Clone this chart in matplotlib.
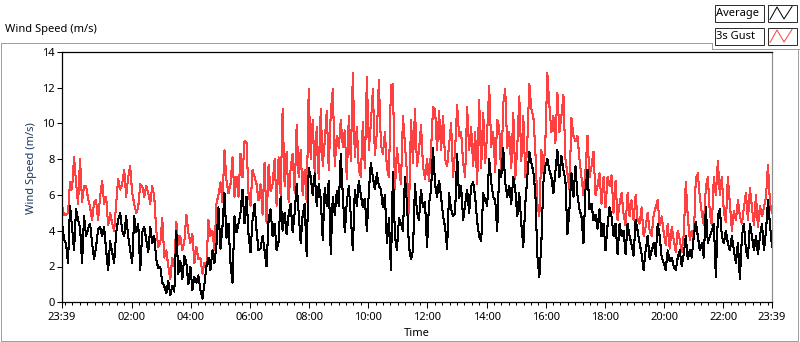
import matplotlib
matplotlib.use("Agg")
import matplotlib.pyplot as plt
import numpy as np
from matplotlib.patches import Rectangle
from matplotlib.lines import Line2D

plt.rcParams['font.family'] = ['Noto Sans', 'DejaVu Sans']

# ---------------- data (left to right, 23:39 -> 23:39) -------------
avg_speed = [
    # 23:39 - 02:55
    4.5, 3.5, 3.3, 2.2, 5.4, 4.2, 2.9, 5.2, 4.6, 4.2, 2.2, 4.8, 3.7, 4.1, 4.4, 3.3, 2.4, 3.1, 4.1, 4.2,
    3.7, 4.2, 2.9, 1.8, 3.4, 2.8, 2.2, 3.9, 4.6, 5.0, 4.0, 3.7, 4.8, 3.7, 2.9, 2.2, 4.8, 3.9, 4.4, 1.8,
    3.9, 4.2, 3.5, 2.8, 4.2, 3.3, 3.7, 2.4, 1.9,
    # 02:55 - 06:15
    2.0, 1.1, 0.9, 0.5, 1.2, 0.4, 0.9, 0.6, 4.0, 1.6, 2.3, 1.3, 2.6, 2.2, 1.0, 2.0, 0.7, 1.4, 1.1, 1.5,
    0.7, 0.2, 1.0, 2.0, 2.5, 1.8, 2.9, 2.2, 3.2, 5.3, 3.0, 4.2, 6.1, 3.6, 4.4, 2.2, 1.1, 4.8, 3.9, 4.4,
    5.0, 6.3, 4.4, 5.9, 3.8, 2.8, 4.6, 5.5, 4.0, 2.9,
    # 06:15 - 09:40
    3.0, 3.7, 2.9, 2.0, 4.6, 5.2, 3.7, 4.4, 2.9, 3.4, 5.9, 4.0, 5.0, 3.8, 4.9, 5.5, 3.9, 5.0, 6.6, 5.0,
    3.3, 4.9, 5.5, 2.6, 7.5, 7.0, 6.0, 7.2, 5.4, 6.6, 5.8, 3.5, 6.4, 5.4, 6.8, 2.7, 5.9, 4.9, 6.2, 5.4,
    8.3, 6.0, 3.9, 5.6, 6.5, 4.8, 2.9, 6.3, 5.4, 6.8,
    # 09:40 - 13:05
    6.0, 5.3, 5.8, 4.0, 6.2, 7.8, 7.0, 6.3, 7.2, 6.5, 6.3, 5.3, 6.0, 3.3, 4.7, 1.8, 7.3, 3.7, 2.9, 4.7,
    4.4, 4.0, 7.0, 5.5, 3.1, 2.4, 2.9, 6.6, 5.0, 4.6, 6.3, 5.3, 5.6, 3.1, 5.5, 6.3, 8.6, 6.6, 5.9, 6.8,
    5.9, 4.8, 4.2, 3.0, 6.1, 5.2, 4.8, 5.0, 8.3, 5.8,
    # 13:05 - 16:25
    6.5, 4.6, 5.5, 6.3, 5.0, 6.5, 6.7, 5.9, 4.5, 3.7, 3.4, 6.1, 5.7, 5.4, 8.0, 6.7, 5.9, 5.7, 4.0, 7.4,
    7.0, 8.6, 6.7, 5.9, 6.5, 5.5, 7.0, 6.3, 4.8, 6.1, 4.4, 3.1, 5.5, 7.0, 8.4, 7.8, 7.3, 6.1, 2.6, 1.4,
    3.3, 6.7, 7.6, 8.0, 7.4, 7.0, 6.1, 7.3, 8.5, 7.0,
    # 16:25 - 19:50
    8.2, 7.4, 6.8, 3.8, 5.2, 7.2, 5.9, 7.6, 6.0, 5.2, 4.8, 3.3, 6.3, 7.4, 5.2, 5.5, 4.6, 4.9, 4.1, 5.2,
    3.7, 4.4, 2.9, 4.3, 5.3, 4.8, 3.7, 4.4, 2.7, 4.4, 3.7, 4.0, 2.7, 4.4, 3.7, 3.2, 2.6, 4.6, 4.0, 3.3,
    2.7, 1.8, 2.9, 3.7, 2.4, 2.9, 3.3, 2.6, 4.4, 3.7,
    # 19:50 - 23:39
    2.5, 2.2, 1.8, 2.9, 2.3, 2.5, 2.0, 1.8, 2.5, 2.9, 2.0, 2.7, 3.7, 2.4, 2.9, 2.5, 3.7, 4.5, 3.7, 2.9,
    3.3, 2.5, 5.3, 3.3, 3.7, 4.0, 4.4, 1.4, 4.8, 5.2, 3.7, 3.3, 4.0, 3.3, 2.9, 3.7, 2.9, 2.2, 3.3, 1.3,
    3.7, 4.4, 2.9, 2.5, 4.4, 3.7, 2.9, 3.7, 2.7, 3.7, 4.4, 2.9, 4.0, 5.7, 4.3, 3.1,
]

gust_speed = [
    # 23:39 - 02:55
    5.4, 4.9, 4.9, 5.0, 6.7, 6.3, 8.1, 6.7, 5.5, 8.0, 5.6, 6.5, 6.5, 5.8, 5.3, 4.6, 5.6, 5.7, 4.6, 5.9,
    6.8, 5.5, 5.9, 4.3, 5.0, 4.4, 4.0, 5.5, 6.9, 6.3, 6.6, 7.4, 5.9, 7.0, 7.6, 6.1, 5.5, 5.0, 5.3, 6.6,
    6.5, 5.9, 6.5, 6.1, 5.5, 6.5, 5.9, 4.0, 3.1,
    # 02:55 - 06:15
    3.3, 4.7, 2.5, 2.9, 2.0, 1.3, 2.5, 2.0, 4.5, 3.2, 3.7, 2.9, 3.4, 4.9, 3.9, 3.3, 3.8, 2.2, 3.1, 2.4,
    2.5, 1.6, 2.2, 2.0, 4.6, 3.7, 4.0, 2.9, 5.5, 6.0, 6.7, 5.6, 8.5, 6.8, 6.1, 6.6, 8.1, 5.9, 7.0, 5.9,
    8.3, 7.0, 9.0, 8.9, 6.1, 5.4, 7.4, 7.0, 6.6, 5.7,
    # 06:15 - 09:40
    6.6, 4.9, 7.8, 4.4, 7.7, 6.2, 6.6, 8.0, 5.4, 8.1, 6.0, 10.8, 6.5, 8.4, 5.6, 7.5, 8.3, 6.1, 9.9, 7.0,
    8.5, 6.0, 7.4, 5.6, 11.9, 8.0, 10.2, 7.2, 9.8, 6.9, 10.8, 7.6, 9.0, 10.7, 7.4, 10.6, 11.9, 7.6, 9.3, 8.6,
    10.2, 8.7, 9.6, 6.9, 10.4, 7.9, 12.8, 8.1, 9.8, 7.4,
    # 09:40 - 13:05
    7.0, 10.1, 7.5, 12.6, 8.5, 10.0, 11.9, 8.2, 9.5, 12.4, 8.8, 8.3, 9.5, 7.5, 7.0, 12.1, 12.2, 6.3, 8.6, 7.5,
    6.6, 10.4, 8.8, 7.2, 5.0, 10.2, 7.8, 10.8, 7.6, 8.5, 9.9, 7.6, 6.9, 8.0, 6.8, 8.5, 10.9, 10.8, 8.5, 10.7,
    8.5, 10.4, 8.0, 7.6, 8.8, 10.0, 7.0, 8.5, 11.0, 9.3,
    # 13:05 - 16:25
    9.5, 7.8, 7.0, 10.9, 8.5, 9.8, 7.6, 9.5, 6.6, 11.3, 7.5, 10.6, 7.8, 9.5, 12.1, 8.7, 9.5, 7.3, 10.2, 9.8,
    7.0, 11.1, 11.9, 8.6, 9.5, 7.5, 10.6, 6.9, 8.7, 11.5, 7.9, 10.4, 7.0, 8.9, 12.2, 10.8, 10.4, 8.5, 5.5, 4.8,
    8.5, 7.2, 9.0, 12.8, 11.0, 9.5, 10.4, 8.9, 11.7, 9.5,
    # 16:25 - 19:50
    10.4, 11.6, 8.0, 7.2, 6.3, 10.3, 9.3, 9.0, 9.3, 8.0, 7.0, 6.0, 7.4, 9.3, 7.0, 7.6, 8.4, 6.0, 6.5, 7.2,
    5.5, 7.0, 5.3, 7.0, 6.5, 7.1, 5.0, 6.8, 4.6, 5.5, 6.1, 4.9, 4.3, 6.1, 4.8, 5.7, 4.6, 6.0, 4.6, 4.4,
    5.3, 3.7, 4.2, 5.0, 4.0, 3.7, 4.9, 5.3, 5.7, 4.3,
    # 19:50 - 23:39
    4.8, 3.9, 3.2, 4.4, 3.0, 4.2, 3.5, 2.8, 4.0, 3.5, 2.8, 3.8, 6.7, 4.8, 3.5, 4.0, 3.6, 6.9, 7.2, 5.9,
    5.0, 4.3, 6.4, 7.0, 5.0, 4.3, 7.0, 6.0, 7.9, 6.0, 7.0, 5.0, 4.5, 7.0, 5.5, 4.0, 5.1, 4.6, 5.7, 4.8,
    4.4, 5.3, 6.1, 4.6, 6.4, 5.3, 4.3, 6.0, 4.2, 5.4, 4.8, 5.3, 5.9, 7.7, 5.5, 5.0,
]

span_minutes = 1440           # 23:39 to 23:39 next day
tick_minutes = [0, 141, 261, 381, 501, 621, 741, 861, 981, 1101, 1221, 1341, 1440]
tick_labels = ["23:39", "02:00", "04:00", "06:00", "08:00", "10:00", "12:00",
               "14:00", "16:00", "18:00", "20:00", "22:00", "23:39"]
y_ticks = [0, 2, 4, 6, 8, 10, 12, 14]
series_names = ["Average", "3s Gust"]
series_colors = ["#000000", "#ff4040"]

# ---------------- figure ----------------
W, H = 800, 342
fig = plt.figure(figsize=(W / 100, H / 100), dpi=100)
fig.patch.set_facecolor("white")

# decoration layer in pixel coordinates
deco = fig.add_axes([0, 0, 1, 1], zorder=0)
deco.set_xlim(0, W)
deco.set_ylim(H, 0)
deco.axis("off")
grey = "#a0a0a0"
for xs, ys in [([0.5, 712], [42.5, 42.5]), ([0.5, 0.5], [42.5, 340.5]),
               ([0.5, 797.5], [340.5, 340.5]), ([797.5, 797.5], [48.5, 340.5]),
               ([712, 712], [42.5, 48.5]), ([712, 800], [48.5, 48.5])]:
    deco.add_line(Line2D(xs, ys, color=grey, lw=0.72, antialiased=False))

deco.text(5, 32, "Wind Speed (m/s)", fontsize=8, color="#000000", va="baseline", ha="left")

# legend boxes
for i, (name, col) in enumerate(zip(series_names, series_colors)):
    top = 4.5 + i * 23
    deco.add_patch(Rectangle((714.5, top), 49, 17, facecolor="white", edgecolor="#303030", lw=0.72))
    deco.text(716.5, top + 8.8, name, fontsize=8, va="center", ha="left", color="black")
    deco.add_patch(Rectangle((767.5, top), 29, 17, facecolor="white", edgecolor="#303030", lw=0.72))
    zx = [770, 777, 784, 792]
    zy = [top + 15, top + 2.5, top + 14.5, top + 2]
    deco.add_line(Line2D(zx, zy, color=col, lw=0.72))

# main plot axes
left, right, top_px, bot_px = 62, 772, 51.7, 302.3
ax = fig.add_axes([left / W, 1 - bot_px / H, (right - left) / W, (bot_px - top_px) / H], zorder=1)
ax.set_facecolor("white")

t_avg = np.linspace(0, span_minutes, len(avg_speed))
t_gust = np.linspace(0, span_minutes, len(gust_speed))
ax.plot(t_gust, gust_speed, color=series_colors[1], lw=0.75, antialiased=False, label=series_names[1])
ax.plot(t_avg, avg_speed, color=series_colors[0], lw=0.75, antialiased=False, label=series_names[0])

ax.set_xlim(0, span_minutes)
ax.set_ylim(0, 14)
ax.set_yticks(y_ticks)
ax.set_yticklabels([str(v) for v in y_ticks])
ax.set_xticks(tick_minutes)
ax.set_xticklabels(tick_labels)
ax.set_xticks([6] + list(range(21, span_minutes, 15)), minor=True)
ax.tick_params(axis="y", which="major", length=3.6, width=0.75, pad=1.5, labelsize=8, direction="out")
ax.tick_params(axis="x", which="major", length=4.3, width=0.75, pad=2.5, labelsize=8, direction="out")
ax.tick_params(axis="x", which="minor", length=2.5, width=0.75, direction="out")

for s in ["top", "left", "bottom"]:
    ax.spines[s].set_color("black")
    ax.spines[s].set_linewidth(0.9)
ax.spines["right"].set_color("#909090")
ax.spines["right"].set_linewidth(0.9)

ax.set_ylabel("Wind Speed (m/s)", fontsize=8, color="#1b3560")
ax.yaxis.set_label_coords(-0.043, 0.534)
ax.yaxis.label.set_verticalalignment("center")
ax.set_xlabel("Time", fontsize=8, color="black")
ax.xaxis.set_label_coords(0.5, -0.126)
ax.xaxis.label.set_verticalalignment("center")

fig.savefig("out.png", dpi=100, facecolor="white")
